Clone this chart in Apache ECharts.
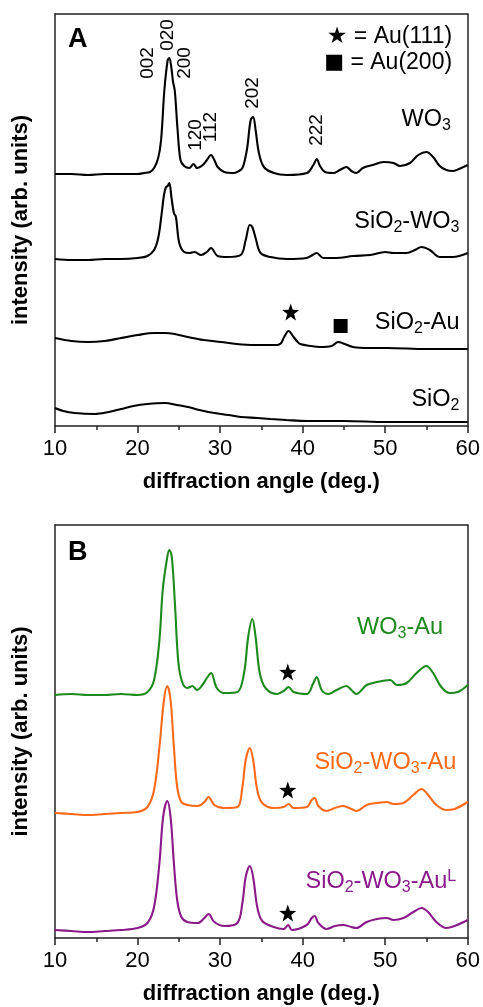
<!DOCTYPE html>
<html>
<head>
<meta charset="utf-8">
<script src="https://cdn.jsdelivr.net/npm/echarts@6/dist/echarts.min.js"></script>
<style>html,body{margin:0;padding:0;background:#fff}#c{width:483px;height:1007px}</style>
</head>
<body>
<div id="c"></div>
<script>
// ---- Data (x = diffraction angle in deg., y = intensity in arb. units, offset traces) ----
const xTicks = [10, 20, 30, 40, 50, 60];

// Panel A
const wo3 = [[10,252],[12,252],[14,251],[16,252],[18,252],[20,252],[20.8,253],[21.5,254],[22.0,258],[22.5,268],[22.85,286],[23.25,336],[23.65,366],[23.85,368],[24.1,358],[24.3,344],[24.5,336],[24.7,314],[24.85,296],[25.2,266],[25.65,260],[26.25,258],[26.8,262],[27.2,258],[27.9,261],[28.4,266],[28.9,271],[29.3,266],[29.7,259],[30.5,254],[31.7,253],[32.3,255],[32.7,258],[33.0,266],[33.3,279],[33.7,306],[34.0,309],[34.3,296],[34.7,273],[35.3,259],[36.5,253],[38.1,251],[40.5,253],[41.3,261],[41.7,267],[42.1,260],[42.7,254],[43.7,253],[44.5,256],[45.3,259],[45.9,255],[46.5,253],[47.3,258],[48.5,261],[49.8,264],[51.0,263],[51.8,260],[53.0,263],[54.0,271],[55.0,274],[55.8,269],[56.6,260],[57.4,256],[58.2,255],[59.2,258],[60,261]];
const sio2wo3 = [[10,167],[12,166],[14,166],[16,167],[18,167],[20,168],[21.2,170],[22.0,176],[22.5,188],[22.9,211],[23.2,231],[23.45,239],[23.65,240],[23.85,243],[24.1,229],[24.4,213],[24.65,209],[25.05,183],[25.65,174],[26.3,173],[26.9,174],[27.7,171],[28.4,174],[28.9,178],[29.7,170],[30.9,169],[32.5,171],[33.1,186],[33.6,201],[33.9,199],[34.3,188],[34.9,173],[36.1,169],[38.1,167],[40.5,168],[41.2,171],[41.7,173],[42.5,168],[44.1,168],[46.1,170],[48.2,171],[50.0,174],[51.0,173],[52.6,173],[53.6,176],[54.4,179],[55.4,176],[56.6,169],[58.2,169],[60,173]];
const sio2au = [[10,88],[12,85],[14,84],[16,85],[18,88],[20,91],[22.0,93],[23.3,93],[24.5,92],[26.1,89],[28,86],[30.1,84],[32,82],[34.1,81],[36.0,81],[36.9,81],[37.4,83],[37.7,88],[38.3,95],[38.9,89],[39.4,84],[39.7,82],[41,80],[42.1,79],[43.5,80],[44.3,84],[45.1,82],[46.1,79],[48,78],[50.2,78],[55,77],[60,77]];
const sio2 = [[10,18],[11,15],[12.4,13],[14.8,12],[16.5,14],[18.0,17],[19.5,20],[21.2,22],[23.3,23],[24.8,21],[26.1,19],[27.5,16],[29.3,13],[31,11],[32.5,9],[34.5,8],[36.1,7],[38,6],[40.5,5],[45,5],[50.2,4],[55,4],[60,4]];

// Panel B
const wo3au = [[10,243],[12,244],[14,243],[16,243],[18,244],[20.0,243],[21.2,246],[22.0,258],[22.65,298],[23.05,348],[23.6,381],[23.85,388],[24.15,381],[24.55,331],[24.95,275],[25.45,255],[26.05,250],[26.65,252],[27.2,248],[27.85,253],[28.4,260],[28.9,265],[29.6,250],[30.5,245],[32.1,246],[32.9,265],[33.4,301],[33.9,319],[34.3,301],[34.8,265],[35.5,250],[36.9,244],[37.7,247],[38.3,251],[38.9,246],[40.5,244],[41.3,255],[41.7,261],[42.3,248],[43.1,244],[44.1,248],[45.3,252],[45.9,248],[46.5,244],[47.75,253],[49.0,256],[50.6,258],[51.4,253],[52.6,255],[53.8,265],[55.0,272],[55.8,265],[56.8,251],[57.8,245],[58.8,246],[60,253]];
const sio2wo3au = [[10,125],[12,124],[14,123],[16,124],[18,125],[20,126],[21.2,131],[22.0,148],[22.65,191],[23.2,238],[23.6,252],[24.0,238],[24.4,191],[24.8,151],[25.3,136],[26.05,133],[27.3,132],[28.1,136],[28.6,141],[29.3,133],[30.5,130],[32.1,131],[32.7,151],[33.1,178],[33.6,190],[34.0,178],[34.5,148],[35.1,135],[36.5,130],[37.7,131],[38.3,134],[38.9,130],[40.5,131],[41.1,138],[41.45,140],[41.9,132],[42.9,127],[43.9,130],[44.9,132],[45.9,129],[46.5,127],[47.75,133],[49.0,135],[50.2,136],[51.0,134],[52.2,135],[53.4,143],[54.4,149],[55.2,143],[56.2,133],[57.4,128],[58.4,129],[60,136]];
const sio2wo3auL = [[10,8],[12,7],[14,6],[16,7],[18,8],[20,10],[21.2,15],[22.0,31],[22.65,75],[23.1,121],[23.6,137],[24.0,121],[24.4,75],[24.8,38],[25.3,21],[26.05,16],[27.3,15],[28.1,20],[28.6,24],[29.3,16],[30.5,12],[32.1,15],[32.7,35],[33.1,61],[33.6,72],[34.0,61],[34.5,31],[35.1,17],[36.5,11],[37.7,9],[38.25,13],[38.7,8],[40.5,13],[41.1,20],[41.45,22],[41.9,15],[42.9,9],[43.9,12],[44.9,13],[45.9,11],[46.5,10],[47.75,16],[49.0,19],[50.2,20],[51.0,18],[52.2,20],[53.4,26],[54.4,30],[55.2,26],[56.2,16],[57.4,10],[58.4,12],[60,18]];

// Annotations (data coordinates)
const peakLabelsA = [['002',21.2,363],['020',23.6,391],['200',25.7,363],['120',27.0,291],['112',28.9,299],['202',33.9,333],['222',41.7,296]];
const sampleLabelsA = [['{n|WO}{s|3}',57.95,306],['{n|SiO}{s|2}{n|-WO}{s|3}',59.0,204],['{n|SiO}{s|2}{n|-Au}',59.0,103],['{n|SiO}{s|2}',59.0,26]];
const legendA = [['{k|★}{t| = Au(111)}',58.1,389],['{q|■}{t| = Au(200)}',58.1,363]];
const starsA = [[38.55,114]];
const squaresA = [[44.6,100]];
const sampleLabelsB = [['{n|WO}{s|3}{n|-Au}',57.0,310,'#1d8a1d'],['{n|SiO}{s|2}{n|-WO}{s|3}{n|-Au}',58.6,175,'#ff6a1a'],['{n|SiO}{s|2}{n|-WO}{s|3}{n|-Au}{p|L}',58.6,56,'#8a1a8a']];
const starsB = [[38.2,266],[38.2,148],[38.2,25]];

const FONT = 'Liberation Sans, Arial, Helvetica, sans-serif';
const INK = '#000';
const starPath = 'path://M0,-10L2.35,-3.24L9.51,-3.09L3.8,1.24L5.88,8.09L0,4L-5.88,8.09L-3.8,1.24L-9.51,-3.09L-2.35,-3.24Z';

function rich(color){
  return {
    n:{fontSize:23.5,color:color,fontFamily:FONT,lineHeight:27},
    s:{fontSize:16,color:color,fontFamily:FONT,verticalAlign:'bottom',lineHeight:18},
    p:{fontSize:16,color:color,fontFamily:FONT,verticalAlign:'top',lineHeight:14}
  };
}

function bottomX(g){
  return {gridIndex:g,type:'value',min:10,max:60,interval:10,position:'bottom',
    axisLine:{show:true,onZero:false,lineStyle:{color:'#222',width:1.5}},
    axisTick:{show:true,inside:false,length:7,lineStyle:{color:'#222',width:1.5}},
    minorTick:{show:true,splitNumber:2,length:4,lineStyle:{color:'#222',width:1.5}},
    axisLabel:{show:true,fontSize:22,color:INK,fontFamily:FONT,margin:12,
      formatter:v=>xTicks.includes(v)?String(v):''},
    splitLine:{show:false},
    name:'diffraction angle (deg.)',nameLocation:'middle',nameGap:45,
    nameTextStyle:{fontSize:22,fontWeight:'bold',color:INK,fontFamily:FONT}
  };
}
function topX(g){
  return {gridIndex:g,type:'value',min:10,max:60,position:'top',
    axisLine:{show:true,onZero:false,lineStyle:{color:'#222',width:1.5}},
    axisTick:{show:false},axisLabel:{show:false},splitLine:{show:false}};
}
function leftY(g,max){
  return {gridIndex:g,type:'value',min:0,max:max,position:'left',
    axisLine:{show:true,onZero:false,lineStyle:{color:'#222',width:1.5}},
    axisTick:{show:false},axisLabel:{show:false},splitLine:{show:false},
    name:'intensity (arb. units)',nameLocation:'middle',nameGap:23,
    nameTextStyle:{fontSize:22,fontWeight:'bold',color:INK,fontFamily:FONT}};
}
function rightY(g,max){
  return {gridIndex:g,type:'value',min:0,max:max,position:'right',
    axisLine:{show:true,onZero:false,lineStyle:{color:'#222',width:1.5}},
    axisTick:{show:false},axisLabel:{show:false},splitLine:{show:false}};
}
function trace(data,xi,yi,color){
  return {type:'line',xAxisIndex:xi,yAxisIndex:yi,data:data,showSymbol:false,symbol:'none',
    smooth:0.35,lineStyle:{color:color,width:2.1},silent:true,z:3};
}
function textSeries(items,xi,yi,opts){
  return {type:'scatter',xAxisIndex:xi,yAxisIndex:yi,symbolSize:0,silent:true,z:5,itemStyle:{opacity:1},
    data:items.map(it=>({value:[it[1],it[2]],name:it[0]})),
    label:Object.assign({show:true,position:[0,0],formatter:p=>p.name,fontFamily:FONT,color:INK},opts)};
}

const series = [
  trace(wo3,0,0,'#000'),trace(sio2wo3,0,0,'#000'),trace(sio2au,0,0,'#000'),trace(sio2,0,0,'#000'),
  trace(wo3au,2,2,'#1d8a1d'),trace(sio2wo3au,2,2,'#ff6a1a'),trace(sio2wo3auL,2,2,'#8a1a8a'),
  textSeries(peakLabelsA,0,0,{rotate:90,fontSize:19,align:'center',verticalAlign:'middle'}),
  textSeries(legendA,0,0,{fontSize:23,align:'right',verticalAlign:'middle',rich:{
    t:{fontSize:23,fontFamily:FONT,color:INK,lineHeight:26},
    k:{fontSize:23,fontFamily:'DejaVu Sans',color:INK,lineHeight:26},
    q:{fontSize:21,fontFamily:'DejaVu Sans',color:INK,lineHeight:26}}}),
  textSeries([['A',11.57,386]],0,0,{fontSize:27,fontWeight:'bold',align:'left',verticalAlign:'middle'}),
  textSeries([['B',11.57,385]],2,2,{fontSize:27,fontWeight:'bold',align:'left',verticalAlign:'middle'}),
  {type:'scatter',xAxisIndex:0,yAxisIndex:0,silent:true,z:5,data:starsA,symbol:starPath,symbolSize:17,itemStyle:{color:INK,opacity:1}},
  {type:'scatter',xAxisIndex:0,yAxisIndex:0,silent:true,z:5,data:squaresA,symbol:'rect',symbolSize:14,itemStyle:{color:INK,opacity:1}},
  {type:'scatter',xAxisIndex:2,yAxisIndex:2,silent:true,z:5,data:starsB,symbol:starPath,symbolSize:17,itemStyle:{color:INK,opacity:1}}
];
sampleLabelsA.forEach(it=>{
  series.push({type:'scatter',xAxisIndex:0,yAxisIndex:0,symbolSize:0,silent:true,z:5,itemStyle:{opacity:1},
    data:[{value:[it[1],it[2]],name:it[0]}],
    label:{show:true,position:[0,0],align:'right',verticalAlign:'middle',formatter:p=>p.name,rich:rich(INK)}});
});
sampleLabelsB.forEach(it=>{
  series.push({type:'scatter',xAxisIndex:2,yAxisIndex:2,symbolSize:0,silent:true,z:5,itemStyle:{opacity:1},
    data:[{value:[it[1],it[2]],name:it[0]}],
    label:{show:true,position:[0,0],align:'right',verticalAlign:'middle',formatter:p=>p.name,rich:rich(it[3])}});
});

const chart = echarts.init(document.getElementById('c'),null,{renderer:'canvas'});
chart.setOption({
  animation:false,
  backgroundColor:'#fff',
  grid:[{left:55,top:14,width:415,height:412},{left:55,top:525,width:415,height:413}],
  xAxis:[bottomX(0),topX(0),bottomX(1),topX(1)],
  yAxis:[leftY(0,412),rightY(0,412),leftY(1,413),rightY(1,413)],
  series:series
});
</script>
</body>
</html>
